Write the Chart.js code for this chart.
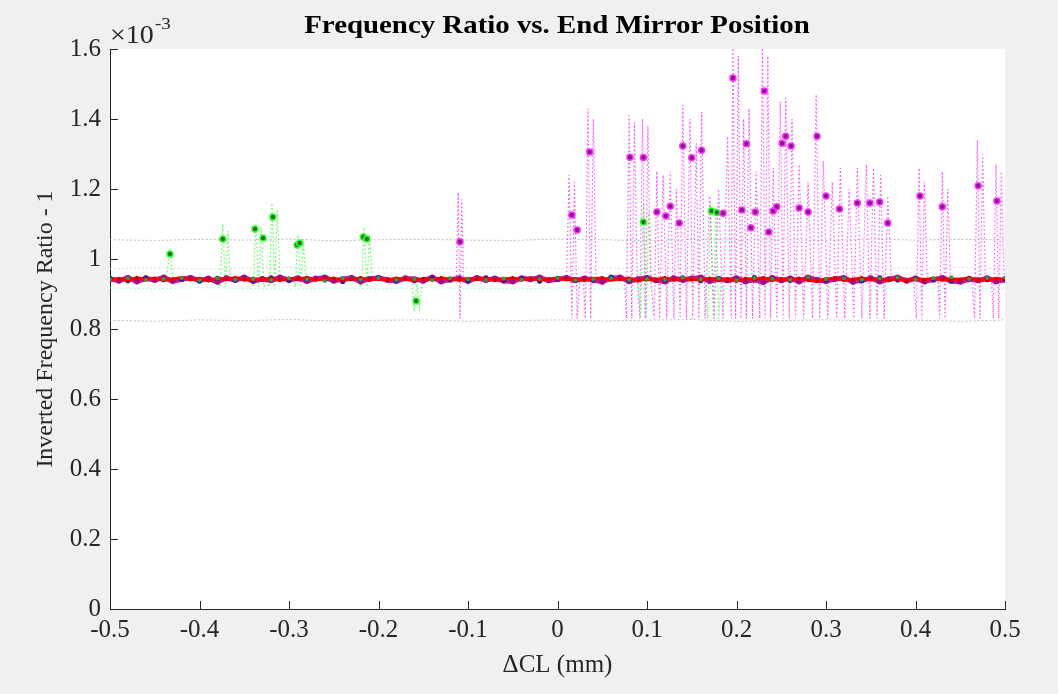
<!DOCTYPE html>
<html><head><meta charset="utf-8">
<script src="https://cdn.jsdelivr.net/npm/chart.js@4/dist/chart.umd.min.js"></script>
<style>html,body{margin:0;padding:0;background:#f0f0f0;}#wrap{width:1058px;height:694px;}</style>
</head><body><div id="wrap"><canvas id="c" width="1058" height="694"></canvas></div>
<script>
// ---- tick labels ----
const xTickLabels = ['-0.5','-0.4','-0.3','-0.2','-0.1','0','0.1','0.2','0.3','0.4','0.5'];
const yTickLabels = ['0','0.2','0.4','0.6','0.8','1','1.2','1.4','1.6'];

// ---- main band (values x 1e-3) ----
const xFine = [-0.50,-0.49,-0.48,-0.47,-0.46,-0.45,-0.44,-0.43,-0.42,-0.41,
-0.40,-0.39,-0.38,-0.37,-0.36,-0.35,-0.34,-0.33,-0.32,-0.31,
-0.30,-0.29,-0.28,-0.27,-0.26,-0.25,-0.24,-0.23,-0.22,-0.21,
-0.20,-0.19,-0.18,-0.17,-0.16,-0.15,-0.14,-0.13,-0.12,-0.11,
-0.10,-0.09,-0.08,-0.07,-0.06,-0.05,-0.04,-0.03,-0.02,-0.01,
0.00,0.01,0.02,0.03,0.04,0.05,0.06,0.07,0.08,0.09,
0.10,0.11,0.12,0.13,0.14,0.15,0.16,0.17,0.18,0.19,
0.20,0.21,0.22,0.23,0.24,0.25,0.26,0.27,0.28,0.29,
0.30,0.31,0.32,0.33,0.34,0.35,0.36,0.37,0.38,0.39,
0.40,0.41,0.42,0.43,0.44,0.45,0.46,0.47,0.48,0.49,0.50];
const redBand = [0.941,0.944,0.939,0.946,0.942,0.945,0.940,0.943,0.947,0.941,
0.944,0.938,0.945,0.942,0.946,0.940,0.943,0.941,0.945,0.939,
0.944,0.942,0.947,0.940,0.943,0.945,0.939,0.942,0.946,0.941,
0.943,0.940,0.945,0.942,0.938,0.944,0.941,0.946,0.943,0.940,
0.944,0.942,0.945,0.939,0.943,0.946,0.941,0.944,0.940,0.942,
0.945,0.941,0.943,0.939,0.944,0.946,0.940,0.942,0.945,0.938,
0.943,0.941,0.946,0.940,0.944,0.942,0.939,0.945,0.941,0.943,
0.937,0.944,0.942,0.946,0.940,0.943,0.941,0.945,0.939,0.936,
0.943,0.945,0.940,0.942,0.946,0.941,0.944,0.939,0.943,0.937,
0.944,0.941,0.945,0.940,0.943,0.942,0.946,0.939,0.941,0.944,0.942];
const magentaBand = [0.943,0.938,0.946,0.936,0.944,0.940,0.947,0.937,0.942,0.946,
0.939,0.944,0.935,0.945,0.940,0.947,0.937,0.943,0.939,0.947,
0.940,0.945,0.937,0.944,0.947,0.938,0.942,0.946,0.936,0.943,
0.946,0.940,0.937,0.945,0.942,0.938,0.947,0.936,0.941,0.945,
0.937,0.946,0.940,0.944,0.938,0.936,0.945,0.942,0.947,0.939,
0.942,0.946,0.939,0.944,0.940,0.935,0.945,0.947,0.937,0.942,
0.946,0.939,0.936,0.945,0.940,0.944,0.947,0.937,0.943,0.939,
0.945,0.936,0.941,0.934,0.946,0.939,0.944,0.936,0.947,0.940,
0.937,0.943,0.946,0.935,0.939,0.945,0.936,0.942,0.947,0.938,
0.944,0.936,0.941,0.946,0.937,0.935,0.942,0.939,0.945,0.936,0.941];
const xCoarse = [-0.50,-0.48,-0.46,-0.44,-0.42,-0.40,-0.38,-0.36,-0.34,-0.32,
-0.30,-0.28,-0.26,-0.24,-0.22,-0.20,-0.18,-0.16,-0.14,-0.12,
-0.10,-0.08,-0.06,-0.04,-0.02,0.00,0.02,0.04,0.06,0.08,
0.10,0.12,0.14,0.16,0.18,0.20,0.22,0.24,0.26,0.28,
0.30,0.32,0.34,0.36,0.38,0.40,0.42,0.44,0.46,0.48,0.50];
const blueBand = [0.944,0.938,0.946,0.941,0.943,0.937,0.945,0.940,0.942,0.946,
0.939,0.944,0.941,0.936,0.943,0.945,0.940,0.938,0.944,0.942,
0.939,0.946,0.941,0.943,0.937,0.945,0.940,0.942,0.948,0.939,
0.943,0.941,0.946,0.938,0.944,0.940,0.947,0.942,0.939,0.945,
0.941,0.943,0.938,0.946,0.940,0.944,0.942,0.939,0.945,0.941,0.943];
const greenBand = [0.942,0.945,0.940,0.943,0.946,0.939,0.944,0.941,0.943,0.940,
0.945,0.942,0.938,0.944,0.941,0.946,0.940,0.943,0.939,0.945,
0.942,0.940,0.944,0.941,0.943,0.946,0.939,0.942,0.945,0.940,
0.943,0.941,0.947,0.942,0.944,0.940,0.946,0.943,0.941,0.948,
0.943,0.945,0.941,0.944,0.947,0.942,0.945,0.948,0.943,0.946,0.947];

// ---- faint reference lines ----
const xEnv = [-0.50,-0.45,-0.40,-0.35,-0.30,-0.25,-0.20,-0.15,-0.10,-0.05,0.00,0.05,0.10,0.15,0.20,0.25,0.30,0.35,0.40,0.45,0.50];
const upperGray = [1.055,1.053,1.056,1.054,1.057,1.052,1.055,1.056,1.054,1.053,1.057,1.055,1.052,1.056,1.054,1.055,1.053,1.057,1.054,1.056,1.055];
const lowerGray = [0.825,0.822,0.826,0.824,0.827,0.823,0.825,0.826,0.822,0.824,0.826,0.823,0.825,0.827,0.822,0.824,0.826,0.823,0.825,0.822,0.826];
const lightGray = [0.972,0.975,0.971,0.974,0.976,0.973,0.975,0.972,0.974,0.977,0.973,0.975,0.971,0.974,0.976,0.972,0.975,0.973,0.974,0.976,0.972];
const lightCyan = [0.917,0.915,0.918,0.916,0.914,0.917,0.915,0.918,0.916,0.915,0.917,0.914,0.916,0.918,0.915,0.917,0.916,0.914,0.917,0.915,0.916];

// ---- outlier markers ----
const magentaMarkX = [-0.109,0.016,0.022,0.036,0.081,0.096,0.111,0.121,0.126,0.136,0.140,0.150,0.161,0.185,0.196,0.206,0.211,0.216,0.221,0.231,0.236,0.241,0.245,0.251,0.255,0.261,0.270,0.280,0.290,0.300,0.315,0.335,0.349,0.360,0.369,0.405,0.430,0.470,0.491];
const magentaMarkY = [1.049,1.126,1.083,1.306,1.291,1.290,1.134,1.123,1.151,1.103,1.323,1.289,1.311,1.131,1.517,1.140,1.329,1.089,1.134,1.480,1.077,1.137,1.149,1.331,1.351,1.323,1.146,1.134,1.351,1.180,1.143,1.160,1.160,1.163,1.103,1.180,1.149,1.209,1.166];
const greenMarkX = [-0.433,-0.374,-0.338,-0.329,-0.318,-0.291,-0.288,-0.217,-0.213,-0.158,0.096,0.172,0.178];
const greenMarkY = [1.014,1.057,1.086,1.060,1.120,1.040,1.046,1.063,1.057,0.880,1.106,1.137,1.133];

// ---- dotted excursion traces [x, value] ----
const magentaTrace = [[-0.113,0.94],[-0.111,1.19],[-0.109,0.83],[-0.107,1.17],[-0.105,0.94],
[0.010,0.94],[0.013,1.24],[0.016,0.83],[0.019,1.22],[0.022,0.83],[0.025,0.94],
[0.029,0.94],[0.031,0.83],[0.034,1.43],[0.037,0.83],[0.040,1.40],[0.043,0.94],
[0.075,0.94],[0.077,0.83],[0.080,1.41],[0.083,0.83],[0.086,1.39],[0.089,0.94],
[0.092,0.83],[0.095,1.40],[0.098,0.83],[0.101,1.38],[0.104,0.94],
[0.108,0.83],[0.111,1.25],[0.114,0.83],[0.118,1.24],[0.122,0.83],[0.126,1.25],[0.130,0.83],[0.133,1.20],
[0.137,0.83],[0.140,1.44],[0.144,0.83],[0.148,1.40],[0.151,0.83],[0.155,1.33],[0.158,0.83],[0.161,1.42],[0.165,0.83],
[0.170,1.18],[0.175,0.83],[0.180,1.20],[0.185,0.83],[0.190,1.35],[0.194,0.83],[0.196,1.62],[0.199,0.83],[0.202,1.58],[0.205,0.83],
[0.208,1.40],[0.211,0.83],[0.214,1.43],[0.218,0.83],[0.222,1.25],[0.226,0.83],[0.229,1.62],[0.232,0.83],[0.235,1.58],[0.238,0.83],
[0.241,1.26],[0.245,0.83],[0.249,1.45],[0.252,0.83],[0.255,1.46],[0.259,0.83],[0.262,1.40],[0.266,0.83],[0.270,1.27],[0.275,0.83],
[0.280,1.22],[0.285,0.83],[0.289,1.47],[0.293,0.83],[0.297,1.28],[0.302,0.83],
[0.307,1.22],[0.312,0.83],[0.316,1.26],[0.321,0.83],[0.326,1.20],[0.331,0.83],[0.335,1.26],[0.340,0.83],[0.345,1.27],[0.349,0.83],
[0.353,1.26],[0.357,0.83],[0.361,1.24],[0.365,0.83],[0.369,1.18],[0.373,0.94],
[0.398,0.94],[0.401,0.83],[0.404,1.26],[0.407,0.83],[0.410,1.22],[0.413,0.94],
[0.425,0.94],[0.427,0.83],[0.430,1.25],[0.433,0.83],[0.436,1.20],[0.439,0.94],
[0.463,0.94],[0.466,0.83],[0.469,1.34],[0.472,0.83],[0.475,1.30],[0.478,0.94],
[0.485,0.94],[0.487,0.83],[0.490,1.27],[0.493,0.83],[0.496,1.25],[0.499,0.94]];
const greenTrace = [[-0.438,0.94],[-0.436,0.96],[-0.433,1.03],[-0.430,0.95],[-0.428,0.94],
[-0.379,0.94],[-0.377,0.92],[-0.374,1.10],[-0.371,0.92],[-0.368,1.08],[-0.366,0.94],
[-0.343,0.94],[-0.340,0.92],[-0.337,1.10],[-0.334,0.92],[-0.331,1.09],[-0.328,0.92],[-0.325,0.94],
[-0.322,0.92],[-0.319,1.16],[-0.316,0.92],[-0.313,1.14],[-0.310,0.94],
[-0.296,0.94],[-0.293,0.92],[-0.290,1.07],[-0.287,0.92],[-0.284,1.05],[-0.281,0.94],
[-0.222,0.94],[-0.219,0.92],[-0.216,1.09],[-0.213,0.92],[-0.210,1.07],[-0.207,0.94],
[-0.163,0.94],[-0.160,0.85],[-0.157,0.93],[-0.154,0.86],[-0.151,0.94],
[0.090,0.94],[0.093,0.83],[0.096,1.16],[0.099,0.83],[0.102,1.13],[0.105,0.94],
[0.165,0.94],[0.168,0.83],[0.171,1.16],[0.174,0.83],[0.177,1.15],[0.180,0.83],[0.183,0.94]];

// ---- build datasets ----
const pts = (xs, ys) => xs.map((x, i) => ({x: x, y: ys[i]}));
const pairPts = arr => arr.map(p => ({x: p[0], y: p[1]}));
const dotted = (data, color, w) => ({data, showLine: true, borderColor: color, borderWidth: w || 1, borderDash: [1.5, 2.5], pointRadius: 0, fill: false});

const datasets = [
  {data: pts(magentaMarkX, magentaMarkY), showLine: false, pointRadius: 3, pointBackgroundColor: '#8a1a8a', pointBorderColor: '#ff30ff', pointBorderWidth: 1.5},
  {data: pts(greenMarkX, greenMarkY), showLine: false, pointRadius: 3, pointBackgroundColor: '#2a702a', pointBorderColor: '#30ff30', pointBorderWidth: 1.5},
  {data: pts(xCoarse, greenBand), showLine: false, pointRadius: 2, pointBackgroundColor: '#30a030', pointBorderWidth: 0},
  {data: pts(xFine, redBand), showLine: true, borderColor: '#ff0000', borderWidth: 3, pointRadius: 1.8, pointBackgroundColor: '#d00000', pointBorderWidth: 0},
  {data: pts(xCoarse, blueBand), showLine: false, pointRadius: 2.6, pointBackgroundColor: '#2020b0', pointBorderWidth: 0},
  {data: pts(xFine, magentaBand), showLine: true, borderColor: '#c81890', borderWidth: 5, pointRadius: 3, pointBackgroundColor: '#a01080', pointBorderWidth: 0},
  dotted(pairPts(magentaTrace), '#ff50ff', 1.2),
  dotted(pairPts(greenTrace), '#50ff50', 1.2),
  dotted(pts(xEnv, upperGray), '#a8a8a8'),
  dotted(pts(xEnv, lowerGray), '#a8a8a8'),
  dotted(pts(xEnv, lightGray), '#d0d0d0'),
  dotted(pts(xEnv, lightCyan), '#a0f0f0')
];

const SERIF = '"Liberation Serif", "Times New Roman", serif';

const bgPlugin = {
  id: 'bg',
  beforeDraw(chart) {
    const {ctx, chartArea: a} = chart;
    ctx.save();
    ctx.fillStyle = '#f0f0f0';
    ctx.fillRect(0, 0, chart.width, chart.height);
    ctx.fillStyle = '#ffffff';
    ctx.fillRect(a.left, a.top, a.right - a.left, a.bottom - a.top);
    ctx.restore();
  }
};
const decoPlugin = {
  id: 'deco',
  afterDraw(chart) {
    const {ctx, chartArea: a, scales} = chart;
    const x = scales.x, y = scales.y;
    ctx.save();
    ctx.strokeStyle = '#262626';
    ctx.lineWidth = 1;
    ctx.beginPath();
    x.ticks.forEach(t => { const p = Math.round(x.getPixelForValue(t.value)) + 0.5; ctx.moveTo(p, a.bottom); ctx.lineTo(p, a.bottom - 8); });
    y.ticks.forEach(t => { const p = Math.round(y.getPixelForValue(t.value)) + 0.5; ctx.moveTo(a.left, p); ctx.lineTo(a.left + 8, p); });
    ctx.stroke();
    // title (horizontally widened like the reference)
    ctx.fillStyle = '#000000';
    ctx.font = 'bold 26px ' + SERIF;
    ctx.textAlign = 'center';
    ctx.textBaseline = 'alphabetic';
    ctx.save();
    ctx.translate(557, 33);
    ctx.scale(1.11, 1);
    ctx.fillText('Frequency Ratio vs. End Mirror Position', 0, 0);
    ctx.restore();
    // exponent
    ctx.fillStyle = '#262626';
    ctx.textAlign = 'left';
    ctx.save();
    ctx.translate(110, 43);
    ctx.scale(1.12, 1);
    ctx.font = '25px ' + SERIF;
    ctx.fillText('\u00d710', 0, 0);
    const w = ctx.measureText('\u00d710').width;
    ctx.font = '17px ' + SERIF;
    ctx.fillText('-3', w + 1, -14);
    ctx.restore();
    ctx.restore();
  }
};

new Chart(document.getElementById('c'), {
  type: 'scatter',
  data: {datasets},
  plugins: [bgPlugin, decoPlugin],
  options: {
    responsive: false,
    animation: false,
    events: [],
    layout: {padding: {top: 49, right: 53, bottom: 0, left: 0}},
    plugins: {legend: {display: false}, tooltip: {enabled: false}, title: {display: false}},
    elements: {line: {tension: 0}},
    scales: {
      x: {
        type: 'linear', min: -0.5, max: 0.5,
        afterFit: s => { s.height = 85; },
        grid: {display: false, drawTicks: false},
        border: {display: true, color: '#262626', width: 1},
        ticks: {stepSize: 0.1, padding: 6, color: '#262626', font: {family: SERIF, size: 25}, maxRotation: 0,
          callback: (v, i) => xTickLabels[i]},
        title: {display: true, text: '\u0394CL (mm)', color: '#262626', font: {family: SERIF, size: 25}, padding: {top: 0, bottom: 14}}
      },
      y: {
        type: 'linear', min: 0, max: 1.6,
        afterFit: s => { s.width = 110; },
        grid: {display: false, drawTicks: false},
        border: {display: true, color: '#262626', width: 1},
        ticks: {stepSize: 0.2, padding: 9, color: '#262626', font: {family: SERIF, size: 25},
          callback: (v, i) => yTickLabels[i]},
        title: {display: true, text: 'Inverted Frequency Ratio - 1', color: '#262626', font: {family: SERIF, size: 24}, padding: {top: 31, bottom: 0}}
      }
    }
  }
});
</script></body></html>
